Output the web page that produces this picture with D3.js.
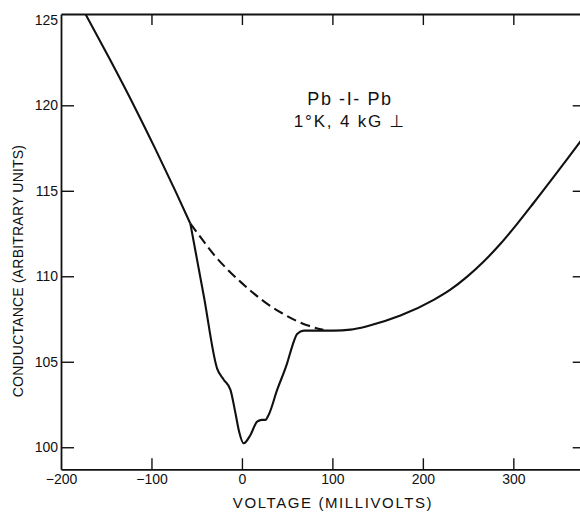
<!DOCTYPE html>
<html>
<head>
<meta charset="utf-8">
<script src="https://cdn.jsdelivr.net/npm/d3@7"></script>
<style>
  html, body { margin: 0; padding: 0; background: #fff; }
  svg { display: block; }
  text { font-family: "Liberation Sans", "DejaVu Sans", sans-serif; fill: #111; }
</style>
</head>
<body>
<svg id="chart" width="580" height="514"></svg>
<script>
// ---- data (voltage in mV, conductance in arbitrary units) ----
const xTicks = [-200, -100, 0, 100, 200, 300];
const xTickLabels = ["\u2212200", "\u2212100", "0", "100", "200", "300"];
const yTicks = [100, 105, 110, 115, 120, 125];
const yTickLabels = ["100", "105", "110", "115", "120", "125"];

// upper straight branch (above the gap region)
const upperV = [-173, -146, -118.8, -96, -73.5, -57];
const upperG = [125.34, 122.69, 119.92, 117.48, 114.98, 113.08];

// measured curve through the gap and beyond
const dipV = [-57, -42, -27.4, -20.1, -12.7, -7.2, -3.5, 2, 9.4, 16.8, 22, 26, 29.6, 38.9, 50, 55.5, 61, 68.3, 83, 101.5, 120, 138.4, 175.2, 212, 230, 249, 267, 285.8, 304, 322.6, 359.5, 390];
const dipG = [113.08, 108.8, 104.6, 103.95, 103.36, 102.0, 101.0, 100.23, 100.72, 101.5, 101.6, 101.6, 101.9, 103.35, 104.92, 105.89, 106.63, 106.82, 106.82, 106.82, 106.88, 107.08, 107.7, 108.62, 109.2, 109.98, 110.85, 111.9, 113.05, 114.3, 116.85, 119.0];

// dashed normal-state background
const dashV = [-57, -46, -30, -16, 0, 13, 25, 44, 60, 74, 90];
const dashG = [113.08, 112.3, 111.2, 110.4, 109.6, 109.0, 108.5, 107.85, 107.4, 107.1, 106.87];

const annotation = ["Pb -I- Pb", "1\u00B0K, 4 kG \u22A5"];
const xTitle = "VOLTAGE (MILLIVOLTS)";
const yTitle = "CONDUCTANCE (ARBITRARY UNITS)";

// ---- layout ----
const svg = d3.select("#chart");
const L = 61, R = 585.7, T = 14, B = 469.3;
const x = d3.scaleLinear().domain([-200, 380]).range([L, R]);
const y = d3.scaleLinear().domain([98.71, 125.34]).range([B, T]);

svg.append("defs").append("clipPath").attr("id", "clip")
  .append("rect").attr("x", L).attr("y", T).attr("width", R - L).attr("height", B - T);

// axes
const axisStyle = g => {
  g.selectAll("path.domain").attr("stroke", "#111").attr("stroke-width", 1.8);
  g.selectAll(".tick line").attr("stroke", "#111").attr("stroke-width", 1.4);
  g.selectAll(".tick text").attr("font-size", 14).attr("fill", "#111")
    .style("font-family", "'Liberation Sans', 'DejaVu Sans', sans-serif");
};

svg.append("g").attr("transform", `translate(0,${B})`)
  .call(d3.axisBottom(x).tickValues(xTicks).tickFormat((d, i) => xTickLabels[i])
        .tickSizeInner(-11).tickSizeOuter(0).tickPadding(5))
  .call(axisStyle);

svg.append("g").attr("transform", `translate(0,${T})`)
  .call(d3.axisTop(x).tickValues(xTicks.slice(1)).tickFormat("")
        .tickSizeInner(-11).tickSizeOuter(0))
  .call(axisStyle);

svg.append("g").attr("transform", `translate(${L},0)`)
  .call(d3.axisLeft(y).tickValues(yTicks).tickFormat((d, i) => yTickLabels[i])
        .tickSizeInner(-13).tickSizeOuter(0).tickPadding(3))
  .call(axisStyle);

svg.append("g").attr("transform", `translate(${R},0)`)
  .call(d3.axisRight(y).tickValues(yTicks.slice(0, 5)).tickFormat("")
        .tickSizeInner(-13).tickSizeOuter(0))
  .call(axisStyle);

// remove ticks drawn on the frame corners
svg.selectAll(".tick").filter(d => d === -200 || d === 125).select("line").remove();

// curves
const line = d3.line().x(d => x(d[0])).y(d => y(d[1])).curve(d3.curveMonotoneX);
const plot = svg.append("g").attr("clip-path", "url(#clip)");

plot.append("path").datum(upperV.map((v, i) => [v, upperG[i]]))
  .attr("d", line).attr("fill", "none").attr("stroke", "#111").attr("stroke-width", 2.1);

plot.append("path").datum(dipV.map((v, i) => [v, dipG[i]]))
  .attr("d", line).attr("fill", "none").attr("stroke", "#111").attr("stroke-width", 2.1)
  .attr("stroke-linejoin", "round");

plot.append("path").datum(dashV.map((v, i) => [v, dashG[i]]))
  .attr("d", line).attr("fill", "none").attr("stroke", "#111").attr("stroke-width", 2.1)
  .attr("stroke-dasharray", "10,5");

// annotation
svg.append("text").attr("x", 350).attr("y", 105).attr("text-anchor", "middle")
  .attr("font-size", 18).attr("letter-spacing", 1.6).text(annotation[0]);
svg.append("text").attr("x", 350).attr("y", 127).attr("text-anchor", "middle")
  .attr("font-size", 17).attr("letter-spacing", 1.8).text(annotation[1]);

// axis titles
svg.append("text").attr("x", 333).attr("y", 508).attr("text-anchor", "middle")
  .attr("font-size", 15).attr("letter-spacing", 1.6).text(xTitle);
svg.append("text").attr("transform", "translate(23,271) rotate(-90)")
  .attr("text-anchor", "middle").attr("font-size", 14).attr("letter-spacing", 0.2)
  .text(yTitle);
</script>
</body>
</html>
